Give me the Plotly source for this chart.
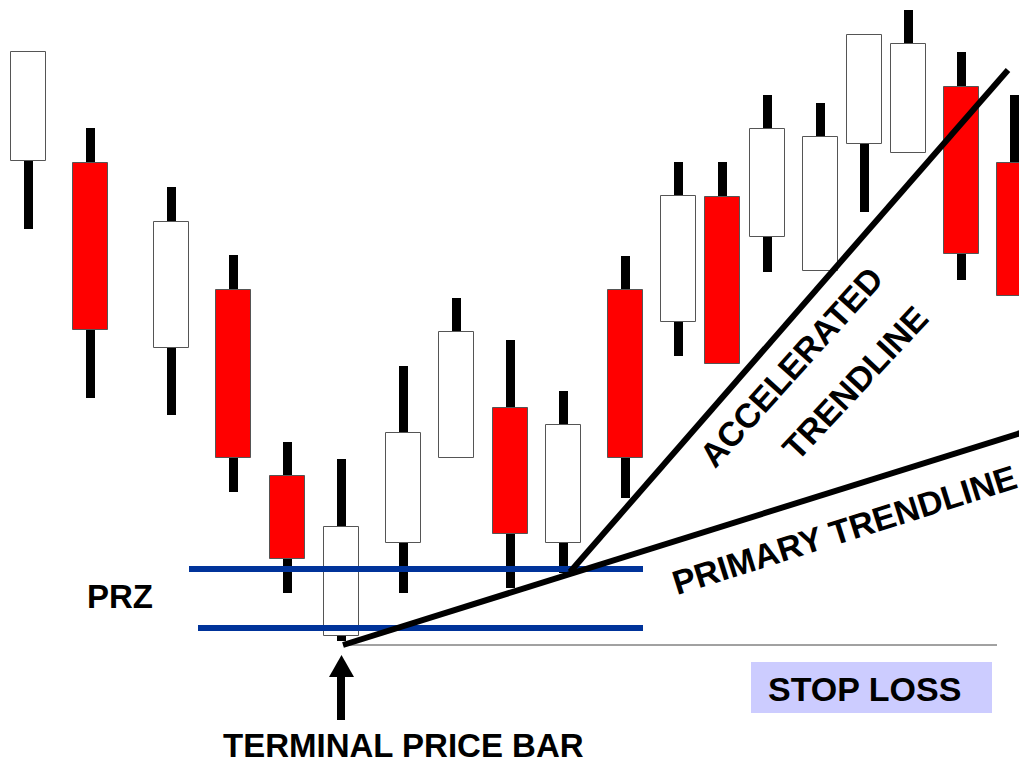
import plotly.graph_objects as go

# candle positions (x) and OHLC values (price units)
x_pos = [28, 90, 171, 233, 287, 341, 403, 456, 510, 563, 625, 678, 722, 767, 820, 864, 908, 961, 1014]
open_ = [604, 602, 417, 475, 289, 129, 222, 307, 357, 222, 475, 443, 568, 528, 494, 621, 612, 678, 602]
high = [713, 637, 578, 510, 323, 306, 399, 467, 425, 374, 509, 603, 603, 670, 662, 730, 755, 713, 670]
low = [536, 367, 350, 273, 172, 124, 172, 307, 177, 192, 267, 409, 401, 493, 494, 553, 612, 485, 469]
close = [713, 435, 543, 307, 206, 238, 332, 433, 231, 340, 307, 569, 401, 636, 628, 730, 721, 511, 469]

# PRZ levels and stop level
prz_upper = 196
prz_lower = 137
stop_level = 120

# trendline anchor points (x, price)
primary_x = [343, 1027]
primary_y = [120, 334]
accel_x = [570, 1008]
accel_y = [193, 695]

body_base = [min(o, c) for o, c in zip(open_, close)]
body_h = [abs(c - o) for o, c in zip(open_, close)]
body_col = ["#ffffff" if c > o else "#ff0000" for o, c in zip(open_, close)]
wick_h = [h - l for h, l in zip(high, low)]

fig = go.Figure()

# wicks
fig.add_trace(go.Bar(x=x_pos, y=wick_h, base=low, width=9,
                     marker=dict(color="#000000", line=dict(width=0)),
                     hoverinfo="skip", showlegend=False))
# bodies
fig.add_trace(go.Bar(x=x_pos, y=body_h, base=body_base, width=35,
                     marker=dict(color=body_col, line=dict(color="#555555", width=1)),
                     hoverinfo="skip", showlegend=False))

# PRZ lines
fig.add_trace(go.Scatter(x=[189, 643], y=[prz_upper, prz_upper], mode="lines",
                         line=dict(color="#00339a", width=6), showlegend=False, hoverinfo="skip"))
fig.add_trace(go.Scatter(x=[198, 643], y=[prz_lower, prz_lower], mode="lines",
                         line=dict(color="#00339a", width=6), showlegend=False, hoverinfo="skip"))
# stop line
fig.add_trace(go.Scatter(x=[343, 997], y=[stop_level, stop_level], mode="lines",
                         line=dict(color="#444444", width=1), showlegend=False, hoverinfo="skip"))
# trendlines
fig.add_trace(go.Scatter(x=primary_x, y=primary_y, mode="lines",
                         line=dict(color="#000000", width=6), showlegend=False, hoverinfo="skip"))
fig.add_trace(go.Scatter(x=accel_x, y=accel_y, mode="lines",
                         line=dict(color="#000000", width=6), showlegend=False, hoverinfo="skip"))

# arrow to terminal price bar
fig.add_shape(type="line", x0=341, x1=341, y0=45, y1=90,
              line=dict(color="#000000", width=8))
fig.add_shape(type="path", path="M 329,88 L 354,88 L 341.5,110 Z",
              fillcolor="#000000", line=dict(width=0))
# stop loss box
fig.add_shape(type="rect", x0=751, x1=992, y0=52, y1=103,
              fillcolor="#ccccff", line=dict(width=0), layer="below")

font = dict(family="Liberation Sans, Arial, sans-serif", color="#000000", size=34, weight="bold")

def ann(text, x, y, angle=0, size=34):
    f = dict(font)
    f["size"] = size
    fig.add_annotation(text=text, x=x, y=y, xref="x", yref="y", showarrow=False,
                       textangle=angle, font=f, xanchor="center", yanchor="middle")

ann("PRZ", 119.5, 169, size=33)
ann("TERMINAL PRICE BAR", 403, 20, size=33)
ann("STOP LOSS", 864, 76.5)
ann("ACCELERATED", 791, 398, angle=-48)
ann("TRENDLINE", 855, 382, angle=-47)
ann("PRIMARY TRENDLINE", 844, 235, angle=-17.5)

# the page places the figure 8px in from the top-left; ranges compensate so 1 unit = 1 px
fig.update_layout(
    width=1019, height=757,
    margin=dict(l=0, r=0, t=0, b=0),
    paper_bgcolor="#ffffff", plot_bgcolor="#ffffff",
    barmode="overlay", bargap=0,
    xaxis=dict(range=[8, 1027], visible=False, fixedrange=True),
    yaxis=dict(range=[0, 757], visible=False, fixedrange=True),
    showlegend=False,
)

fig.write_html("out.html")
